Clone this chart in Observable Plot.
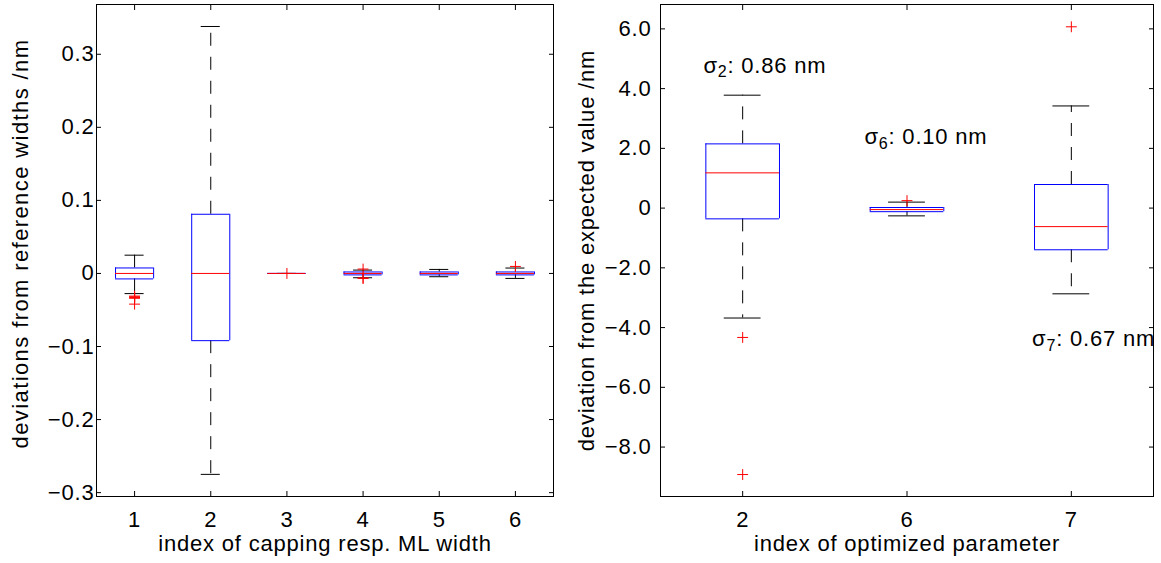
<!DOCTYPE html>
<html><head><meta charset="utf-8">
<script src="https://cdn.jsdelivr.net/npm/d3@7"></script>
<script src="https://cdn.jsdelivr.net/npm/@observablehq/plot@0.6"></script>
<style>
html,body{margin:0;padding:0;background:#fff;}
#wrap{display:flex;width:1161px;height:563px;}
svg text{letter-spacing:0.8px;}
</style></head><body><div id="wrap"></div>
<script>
// ---------- Left panel data ----------
const leftPos = [1, 2, 3, 4, 5, 6];
const leftLo  = [-0.0276, -0.275, 0, -0.0059, -0.0045, -0.0068];
const leftQ1  = [-0.0075, -0.092, 0, -0.002, -0.002, -0.002];
const leftMed = [0, 0, 0, 0, 0, 0];
const leftQ3  = [0.0075, 0.081, 0, 0.002, 0.002, 0.002];
const leftHi  = [0.025, 0.338, 0, 0.0046, 0.0055, 0.0074];
const leftOutPos = [1, 1, 1, 1, 1, 3, 4, 4, 4, 6];
const leftOutVal = [-0.031, -0.032, -0.033, -0.034, -0.042, 0, 0.006, -0.0063, -0.0068, 0.0096];
const leftXTicks = [1, 2, 3, 4, 5, 6];
const leftYTicks = [-0.3, -0.2, -0.1, 0, 0.1, 0.2, 0.3];

// ---------- Right panel data ----------
const rightPos = [1, 2, 3];
const rightCats = ["2", "6", "7"];
const rightLo  = [-3.68, -0.26, -2.87];
const rightQ1  = [-0.36, -0.12, -1.395];
const rightMed = [1.18, -0.05, -0.62];
const rightQ3  = [2.15, 0.02, 0.79];
const rightHi  = [3.78, 0.20, 3.42];
const rightOutPos = [1, 1, 2, 3];
const rightOutVal = [-4.33, -8.92, 0.25, 6.07];
const rightYTicks = [-8, -6, -4, -2, 0, 2, 4, 6];
const annText = ["σ_2: 0.86 nm", "σ_6: 0.10 nm", "σ_7: 0.67 nm"];
const annX = [0.761, 1.741, 2.761];
const annY = [4.535, 2.14, -4.63];

const FONT = "'Liberation Sans', Arial, Helvetica, sans-serif";
const fmtY = d => d === 0 ? "0" : d3.format(".1f")(d);

function boxPanel(o) {
  const rows = o.pos.map((p, i) => ({p, lo: o.lo[i], q1: o.q1[i], med: o.med[i], q3: o.q3[i], hi: o.hi[i]}));
  const outs = o.outPos.map((p, i) => ({p, v: o.outVal[i]}));
  const bh = o.boxHalf, ch = o.capHalf;
  const dash = "13,11";
  const marks = [
    Plot.ruleX(rows, {x: "p", y1: "q3", y2: "hi", stroke: "black", strokeDasharray: dash}),
    Plot.ruleX(rows, {x: "p", y1: "q1", y2: "lo", stroke: "black", strokeDasharray: dash}),
    Plot.ruleY(rows, {y: "hi", x1: d => d.p - ch, x2: d => d.p + ch, stroke: "black"}),
    Plot.ruleY(rows, {y: "lo", x1: d => d.p - ch, x2: d => d.p + ch, stroke: "black"}),
    Plot.ruleX(rows, {x: d => d.p - bh, y1: "q1", y2: "q3", stroke: "blue"}),
    Plot.ruleX(rows, {x: d => d.p + bh, y1: "q1", y2: "q3", stroke: "blue"}),
    Plot.ruleY(rows, {y: "q1", x1: d => d.p - bh, x2: d => d.p + bh, stroke: "blue"}),
    Plot.ruleY(rows, {y: "q3", x1: d => d.p - bh, x2: d => d.p + bh, stroke: "blue"}),
    Plot.ruleY(rows, {y: "med", x1: d => d.p - bh, x2: d => d.p + bh, stroke: "red"}),
    Plot.dot(outs, {x: "p", y: "v", symbol: "plus", r: 3.6, stroke: "red", strokeWidth: 1}),
    Plot.axisX({anchor: "bottom", ticks: o.xTicks, tickFormat: o.xFormat, tickSize: -5, tickPadding: 20,
      label: o.xLabel, labelAnchor: "center", labelOffset: o.xLabelOffset, labelArrow: "none"}),
    Plot.axisX({anchor: "top", ticks: o.xTicks, tickFormat: () => "", tickSize: -5, label: null}),
    Plot.axisY({anchor: "left", ticks: o.yTicks, tickFormat: fmtY, tickSize: -5, tickPadding: o.yPad,
      label: o.yLabel, labelAnchor: "center", labelOffset: o.yLabelOffset, labelArrow: "none"}),
    Plot.axisY({anchor: "right", ticks: o.yTicks, tickFormat: () => "", tickSize: -5, label: null}),
    ...(o.extra || []),
    Plot.frame({stroke: "black", strokeWidth: 1})
  ];
  const svg = Plot.plot({
    width: o.width, height: 563,
    marginLeft: o.ml, marginRight: o.mr, marginTop: 4, marginBottom: 67,
    x: {domain: o.xDomain},
    y: {domain: o.yDomain},
    style: {fontSize: "22px", fontFamily: FONT, color: "black", background: "white", overflow: "visible"},
    marks
  });
  return svg;
}

const left = boxPanel({
  pos: leftPos, lo: leftLo, q1: leftQ1, med: leftMed, q3: leftQ3, hi: leftHi,
  outPos: leftOutPos, outVal: leftOutVal,
  xDomain: [0.5, 6.5], yDomain: [-0.3053, 0.3681],
  xTicks: leftXTicks, xFormat: d => String(d), yTicks: leftYTicks,
  boxHalf: 0.25, capHalf: 0.125, width: 580, ml: 96, mr: 27, yPad: 7,
  xLabel: "index of capping resp. ML width", xLabelOffset: 54,
  yLabel: "deviations from reference widths /nm", yLabelOffset: 84
});

const annRows = annText.map((t, i) => ({t, x: annX[i], y: annY[i]}));
const right = boxPanel({
  pos: rightPos, lo: rightLo, q1: rightQ1, med: rightMed, q3: rightQ3, hi: rightHi,
  outPos: rightOutPos, outVal: rightOutVal,
  xDomain: [0.5, 3.5], yDomain: [-9.655, 6.816],
  xTicks: rightPos, xFormat: d => rightCats[d - 1], yTicks: rightYTicks,
  boxHalf: 0.224, capHalf: 0.112, width: 581, ml: 80, mr: 8, yPad: 14,
  xLabel: "index of optimized parameter", xLabelOffset: 54,
  yLabel: "deviation from the expected value /nm", yLabelOffset: 82,
  extra: [Plot.text(annRows, {x: "x", y: "y", text: "t", textAnchor: "start", lineAnchor: "bottom", fill: "black"})]
});

// Slightly wider tracking on the left y-axis title, recentred
left.querySelectorAll("text").forEach(t => {
  if (t.textContent.startsWith("deviations from")) {
    t.style.letterSpacing = "1.4px";
    t.setAttribute("dx", "7");
  }
});

// Subscripts in annotation text
right.querySelectorAll("text").forEach(t => {
  const s = t.textContent;
  if (!s.includes("_")) return;
  const [pre, rest] = s.split("_");
  const sub = rest[0], post = rest.slice(1);
  while (t.firstChild) t.removeChild(t.firstChild);
  const ns = "http://www.w3.org/2000/svg";
  const a = document.createElementNS(ns, "tspan"); a.textContent = pre;
  const b = document.createElementNS(ns, "tspan"); b.textContent = sub;
  b.setAttribute("dy", "4.5"); b.setAttribute("font-size", "16");
  const c = document.createElementNS(ns, "tspan"); c.textContent = post;
  c.setAttribute("dy", "-4.5");
  t.append(a, b, c);
});

document.getElementById("wrap").append(left, right);
</script></body></html>
